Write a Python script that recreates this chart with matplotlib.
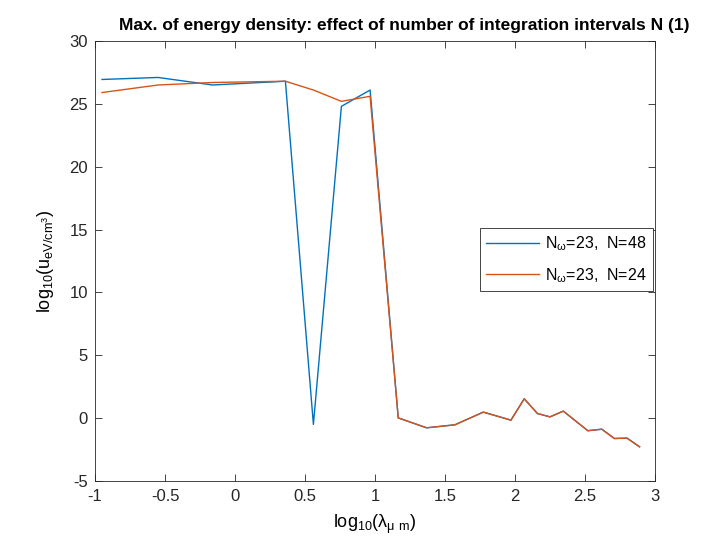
import matplotlib.pyplot as plt

log_lambda = [-0.95, -0.55, -0.16, 0.36, 0.56, 0.76, 0.965, 1.166, 1.369, 1.571,
              1.774, 1.971, 2.066, 2.16, 2.25, 2.345, 2.52, 2.62, 2.71, 2.80, 2.89]
tail = [0.02, -0.77, -0.53, 0.48, -0.16, 1.54, 0.37, 0.1, 0.56, -1.0, -0.88,
        -1.62, -1.59, -2.28]
u_n48 = [26.94, 27.1, 26.5, 26.8, -0.5, 24.8, 26.1] + tail
u_n24 = [25.9, 26.5, 26.7, 26.8, 26.1, 25.2, 25.6] + tail

labels = ['N$_\\omega$=23,  N=48', 'N$_\\omega$=23,  N=24']
colors = ['#0072BD', '#D95319']

plt.rcParams['font.family'] = ['Liberation Sans', 'DejaVu Sans']
plt.rcParams['mathtext.default'] = 'regular'

fig = plt.figure(figsize=(7.27, 5.45), dpi=100)
ax = fig.add_axes([95 / 727, 1 - 481 / 545, 560 / 727, 440 / 545])
ax.plot(log_lambda, u_n48, color=colors[0], lw=1, label=labels[0])
ax.plot(log_lambda, u_n24, color=colors[1], lw=1, label=labels[1])

ax.set_xlim(-1, 3)
ax.set_ylim(-5, 30)
ax.set_xticks([-1, -0.5, 0, 0.5, 1, 1.5, 2, 2.5, 3])
ax.set_xticklabels(['-1', '-0.5', '0', '0.5', '1', '1.5', '2', '2.5', '3'])
ax.set_yticks(range(-5, 31, 5))
ax.set_yticklabels([str(v) for v in range(-5, 31, 5)])
ax.tick_params(direction='in', length=5, width=0.6, top=True, right=True,
               labelsize=12, colors='#262626')
ax.tick_params(axis='x', pad=6)
ax.tick_params(axis='y', pad=5)
for s in ax.spines.values():
    s.set_linewidth(0.6)
    s.set_color('#262626')

fig.text(404 / 727, 1 - 30 / 545,
         'Max. of energy density: effect of number of integration intervals N (1)',
         fontsize=12.5, fontweight='bold', ha='center', va='baseline')
ax.set_xlabel('log$_{10}$($\\lambda_{\\mu\\ m}$)', fontsize=13, labelpad=6)
ax.set_ylabel('log$_{10}$(u$_{eV/cm^3}$)', fontsize=13, labelpad=10)

leg = ax.legend(loc='upper left', bbox_to_anchor=(0.6875, 0.575), borderaxespad=0,
                fancybox=False, edgecolor='#262626', framealpha=1, fontsize=11.5,
                borderpad=0.4, handlelength=3.3, handletextpad=0.35, labelspacing=0.8)
leg.get_frame().set_linewidth(0.6)

fig.savefig('out.png', dpi=100)
